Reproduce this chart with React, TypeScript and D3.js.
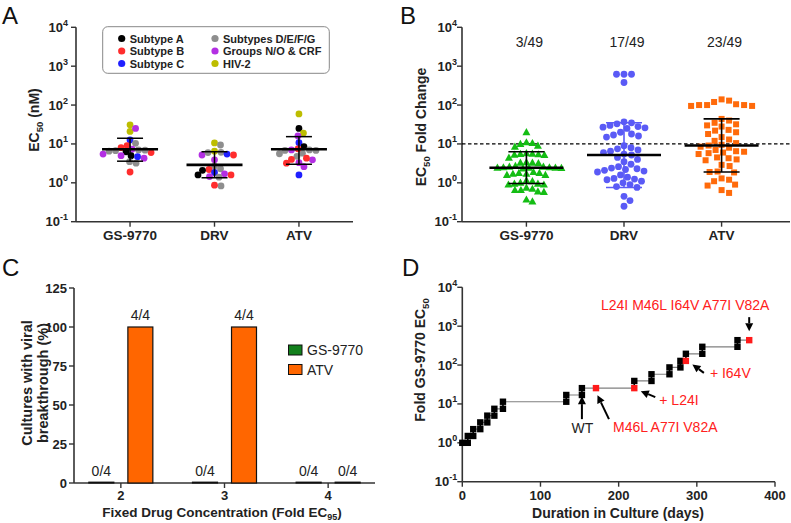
import React from 'react';
import * as d3 from 'd3';

const FONT = "'Liberation Sans', Arial, Helvetica, sans-serif";
const AX = '#333333';

// ---------------- Panel A data ----------------
const drugs = ['GS-9770', 'DRV', 'ATV'];
const subtypeNames = ['Subtype A', 'Subtype B', 'Subtype C', 'Subtypes D/E/F/G', 'Groups N/O & CRF', 'HIV-2'];
const subtypeColors = ['#000000', '#ff2d2d', '#1f1fff', '#8e8e8e', '#b32fe3', '#bdbd00'];
const gsSubtype = [5, 5, 4, 2, 3, 1, 1, 4, 3, 0, 1, 3, 3, 3, 0, 4, 4, 4, 2, 3, 3, 1];
const gsEC50 = [31, 21, 25, 12.7, 10.4, 9.1, 8.0, 7.3, 7.0, 6.3, 6.0, 6.7, 6.5, 6.9, 5.0, 5.5, 5.0, 4.3, 4.7, 3.5, 3.2, 1.9];
const drvSubtype = [5, 3, 5, 4, 3, 3, 2, 1, 4, 3, 3, 1, 0, 2, 1, 4, 3, 0, 4, 3, 1];
const drvEC50 = [10.6, 9.4, 6.5, 5.2, 6.1, 6.0, 5.5, 5.2, 3.9, 2.7, 2.3, 2.2, 2.1, 1.85, 1.6, 1.7, 1.4, 1.6, 1.45, 0.83, 0.87];
const atvSubtype = [5, 0, 5, 4, 2, 0, 3, 4, 3, 3, 1, 3, 3, 4, 4, 1, 3, 1, 1, 4, 2];
const atvEC50 = [59, 25, 19, 16, 10.8, 8.5, 5.8, 7, 5.6, 6.8, 7.5, 6.8, 7.0, 3.9, 3.3, 4.3, 4.8, 3.2, 4.0, 2.6, 1.6];
const aMedian = [7.3, 2.9, 7.3];
const aQ1 = [3.6, 1.35, 3.0];
const aQ3 = [14, 6.3, 15.4];

// ---------------- Panel B data ----------------
const bGS = [20, 11, 10.5, 10, 9, 8.5, 5.8, 5.6, 5.5, 5.4, 5.3, 5.2, 4.4, 3.4, 3.3, 3.3, 3.2, 2.7, 2.6, 2.6, 2.5, 2.5, 2.45, 2.45, 2.45,
  2.4, 2.35, 1.9, 1.8, 1.8, 1.7, 1.7, 1.6, 1.6, 1.15, 1.1, 1.0, 0.95, 0.95, 0.9, 0.9, 0.75, 0.7, 0.65, 0.65, 0.6, 0.58, 0.37, 0.33];
const bDRV = [620, 620, 620, 380, 37, 35, 33, 30, 28, 27, 26, 25, 20, 18, 17, 16, 15, 9, 8, 7.5, 7, 6.5, 6, 5.5, 5.2,
  4.5, 4, 3.5, 3, 2.6, 2.4, 2.3, 2.2, 2.1, 2.0, 1.9, 1.6, 1.4, 1.3, 1.25, 1.2, 1.1, 1.0, 0.9, 0.8, 0.76, 0.45, 0.35, 0.25];
const bATV = [140, 130, 120, 105, 100, 100, 100, 95, 95, 44, 40, 35, 32, 30, 28, 23, 22, 20, 18, 15, 13, 12, 10.5, 9.5, 9.1,
  8.5, 8, 7, 6.5, 6.3, 6, 5.8, 5.5, 4.5, 4.3, 4, 3.8, 2.9, 2.7, 1.95, 1.9, 1.85, 1.3, 1.2, 1.1, 0.9, 0.85, 0.65, 0.55];
const bMedian = [2.45, 5.2, 9.1];
const bQ1 = [0.96, 0.76, 1.9];
const bQ3 = [6.3, 35, 44];
const bCounts = ['3/49', '17/49', '23/49'];
const bCutoff = 10;

// ---------------- Panel C data ----------------
const concs = ['2', '3', '4'];
const cSeries = ['GS-9770', 'ATV'];
const cGS = [0, 0, 0];
const cATV = [100, 100, 0];
const cGSLabels = ['0/4', '0/4', '0/4'];
const cATVLabels = ['4/4', '4/4', '0/4'];
const cTicks = [0, 25, 50, 75, 100, 125];

// ---------------- Panel D data ----------------
const dDays = [0, 7, 7, 14, 14, 23, 23, 32, 32, 41, 41, 52, 52, 133, 133, 153, 153, 171, 220, 220, 242, 242, 265, 265, 279, 279, 286, 286, 307, 307, 352, 352, 367];
const dFold = [1.0, 1.0, 1.5, 1.5, 2.25, 2.25, 3.35, 3.35, 5.0, 5.0, 7.5, 7.5, 11.4, 11.4, 17, 17, 25.5, 25.5, 25.5, 39, 39, 58, 58, 87, 87, 128, 128, 195, 195, 295, 295, 437, 437];
const dMutant = [0, 0, 0, 0, 0, 0, 0, 0, 0, 0, 0, 0, 0, 0, 0, 0, 0, 1, 1, 0, 0, 0, 0, 0, 0, 0, 1, 0, 0, 0, 0, 0, 1];
const dXTicks = [0, 100, 200, 300, 400];

const logTicks = [0.1, 1, 10, 100, 1000, 10000];
const logExps = ['-1', '0', '1', '2', '3', '4'];

// ---------------- helpers ----------------
function swarm(vals: number[], yOf: (v: number) => number, d: number): number[] {
  const idx = vals.map((_, i) => i).sort((a, b) => yOf(vals[a]) - yOf(vals[b]));
  const placed: [number, number][] = [];
  const out = new Array(vals.length).fill(0);
  for (const i of idx) {
    const yi = yOf(vals[i]);
    let off = 0;
    for (let k = 0; k < 4000; k++) {
      const cand = k === 0 ? 0 : (k % 2 === 1 ? 1 : -1) * Math.ceil(k / 2) * 0.5;
      let ok = true;
      for (const [px, py] of placed) {
        const dx = px - cand, dy = py - yi;
        if (dx * dx + dy * dy < d * d) { ok = false; break; }
      }
      if (ok) { off = cand; break; }
    }
    out[i] = off;
    placed.push([off, yi]);
  }
  return out;
}

function LogYAxis({ x, y, labelGap }: { x: number; y: d3.ScaleLogarithmic<number, number>; labelGap: number }) {
  return (
    <g>
      <line x1={x} x2={x} y1={y(1e4)} y2={y(0.1)} stroke={AX} strokeWidth={1.6} />
      {logTicks.map((t, i) => (
        <g key={i}>
          <line x1={x - 5} x2={x} y1={y(t)} y2={y(t)} stroke={AX} strokeWidth={1.4} />
          <text x={x - labelGap} y={y(t) + 4.5} textAnchor="end" fontFamily={FONT} fontWeight="bold" fontSize={13} fill="#222">
            10<tspan dy={-6} fontSize={9}>{logExps[i]}</tspan>
          </text>
        </g>
      ))}
    </g>
  );
}

function Arrow({ x1, y1, x2, y2 }: { x1: number; y1: number; x2: number; y2: number }) {
  const a = Math.atan2(y2 - y1, x2 - x1);
  const L = 8, Wd = 4;
  const bx = x2 - L * Math.cos(a), by = y2 - L * Math.sin(a);
  const px = -Math.sin(a), py = Math.cos(a);
  return (
    <g>
      <line x1={x1} y1={y1} x2={bx} y2={by} stroke="#000" strokeWidth={2} />
      <polygon points={`${x2},${y2} ${bx + px * Wd},${by + py * Wd} ${bx - px * Wd},${by - py * Wd}`} fill="#000" />
    </g>
  );
}

function tri(cx: number, cy: number) {
  return `M${cx},${cy - 4.2}L${cx + 4},${cy + 3}L${cx - 4},${cy + 3}Z`;
}

export default function App() {
  // ---- Panel A ----
  const aY = d3.scaleLog().domain([0.1, 1e4]).range([221.7, 27.3]);
  const aX = d3.scalePoint<string>().domain(drugs).range([76, 353]).padding(0.64);
  const aVals = [gsEC50, drvEC50, atvEC50];
  const aSubs = [gsSubtype, drvSubtype, atvSubtype];
  const aOffs = aVals.map(v => swarm(v, (t) => aY(t), 6.2));

  // ---- Panel B ----
  const bY = d3.scaleLog().domain([0.1, 1e4]).range([221.7, 27.3]);
  const bX = d3.scalePoint<string>().domain(drugs).range([462, 786]).padding(0.66);
  const bVals = [bGS, bDRV, bATV];
  const bD = [6.0, 7.1, 7.6];
  const bOffs = bVals.map((v, i) => swarm(v, (t) => bY(t), bD[i]));
  const bColors = ['#14bd14', '#5a5af6', '#ff6a0a'];
  const bWhisker = ['#000', '#5a5af6', '#000'];

  // ---- Panel C ----
  const cY = d3.scaleLinear().domain([0, 125]).range([483, 288]);
  const cX = d3.scalePoint<string>().domain(concs).range([74, 375]).padding(0.452);
  const cInner = d3.scaleBand<string>().domain(cSeries).range([-32, 32]).paddingInner(0.36);
  const cColors = ['#13801c', '#ff6600'];
  const cVals = [cGS, cATV];
  const cLabels = [cGSLabels, cATVLabels];

  // ---- Panel D ----
  const dX = d3.scaleLinear().domain([0, 400]).range([462.3, 775]);
  const dY = d3.scaleLog().domain([0.1, 1e4]).range([481.7, 287.3]);
  const dPts = dDays.map((d, i) => ({ x: dX(d), y: dY(dFold[i]), m: dMutant[i] }));
  const dLine = d3.line<{ x: number; y: number }>().x(p => p.x).y(p => p.y)(dPts) || '';
  const redIdx = dMutant.map((m, i) => (m ? i : -1)).filter(i => i >= 0);
  const pM46 = dPts[redIdx[0]], pL24 = dPts[redIdx[1]], pI64 = dPts[redIdx[2]], pEnd = dPts[redIdx[3]];
  const pWT = dPts[16];

  const titleStyle = { fontFamily: FONT, fontWeight: 'bold' as const, fontSize: 14, fill: '#222' };

  return (
    <svg width={791} height={523} style={{ position: 'absolute', left: 0, top: 0, background: '#fff' }}>
      <rect x={0} y={0} width={791} height={523} fill="#fff" />
      {/* Panel letters */}
      <text x={2} y={24} fontFamily={FONT} fontSize={24} fill="#111">A</text>
      <text x={400} y={24} fontFamily={FONT} fontSize={24} fill="#111">B</text>
      <text x={2} y={276} fontFamily={FONT} fontSize={24} fill="#111">C</text>
      <text x={402} y={276} fontFamily={FONT} fontSize={24} fill="#111">D</text>

      {/* ================= Panel A ================= */}
      <g>
        <LogYAxis x={76} y={aY} labelGap={8} />
        <line x1={76} x2={353} y1={aY(0.1)} y2={aY(0.1)} stroke={AX} strokeWidth={1.6} />
        {drugs.map((d) => (
          <g key={d}>
            <line x1={aX(d)} x2={aX(d)} y1={aY(0.1)} y2={aY(0.1) + 5} stroke={AX} strokeWidth={1.4} />
            <text x={aX(d)} y={240} textAnchor="middle" {...titleStyle} fontSize={13.5}>{d}</text>
          </g>
        ))}
        <text transform={`translate(39,120) rotate(-90)`} textAnchor="middle" {...titleStyle}>
          EC<tspan dy={4} fontSize={9.5}>50</tspan><tspan dy={-4}> (nM)</tspan>
        </text>
        {drugs.map((d, di) => (
          <g key={d}>
            {aVals[di].map((v, i) => (
              <circle key={i} cx={(aX(d) as number) + aOffs[di][i]} cy={aY(v)} r={3.4} fill={subtypeColors[aSubs[di][i]]} />
            ))}
            <line x1={(aX(d) as number) - 28} x2={(aX(d) as number) + 28} y1={aY(aMedian[di])} y2={aY(aMedian[di])} stroke="#000" strokeWidth={2.6} />
            <line x1={aX(d)} x2={aX(d)} y1={aY(aQ1[di])} y2={aY(aQ3[di])} stroke="#000" strokeWidth={1.5} />
            <line x1={(aX(d) as number) - 13} x2={(aX(d) as number) + 13} y1={aY(aQ1[di])} y2={aY(aQ1[di])} stroke="#000" strokeWidth={1.5} />
            <line x1={(aX(d) as number) - 13} x2={(aX(d) as number) + 13} y1={aY(aQ3[di])} y2={aY(aQ3[di])} stroke="#000" strokeWidth={1.5} />
          </g>
        ))}
        {/* legend */}
        <rect x={102.7} y={26.7} width={226.6} height={46.6} rx={5} fill="#fff" stroke="#888" strokeWidth={1} />
        {subtypeNames.map((n, i) => {
          const col = Math.floor(i / 3), row = i % 3;
          const lx = col === 0 ? 121.7 : 215;
          const ly = 38.5 + row * 12.5;
          return (
            <g key={n}>
              <circle cx={lx} cy={ly} r={3.6} fill={subtypeColors[i]} />
              <text x={lx + 8} y={ly + 4} fontFamily={FONT} fontWeight="bold" fontSize={11} fill="#222">{n}</text>
            </g>
          );
        })}
      </g>

      {/* ================= Panel B ================= */}
      <g>
        <LogYAxis x={462} y={bY} labelGap={5} />
        <line x1={462} x2={790} y1={bY(0.1)} y2={bY(0.1)} stroke={AX} strokeWidth={1.6} />
        {drugs.map((d, di) => (
          <g key={d}>
            <line x1={bX(d)} x2={bX(d)} y1={bY(0.1)} y2={bY(0.1) + 5} stroke={AX} strokeWidth={1.4} />
            <text x={bX(d)} y={240} textAnchor="middle" {...titleStyle} fontSize={13.5}>{d}</text>
            <text x={(bX(d) as number) + 3} y={47} textAnchor="middle" fontFamily={FONT} fontSize={14} fill="#222">{bCounts[di]}</text>
          </g>
        ))}
        <text transform={`translate(426,127) rotate(-90)`} textAnchor="middle" {...titleStyle}>
          EC<tspan dy={4} fontSize={9.5}>50</tspan><tspan dy={-4}> Fold Change</tspan>
        </text>
        <line x1={462} x2={790} y1={bY(bCutoff)} y2={bY(bCutoff)} stroke="#000" strokeWidth={1.3} strokeDasharray="3.5,2.5" />
        {drugs.map((d, di) => {
          const cx = bX(d) as number;
          return (
            <g key={d}>
              {bVals[di].map((v, i) => {
                const px = cx + bOffs[di][i], py = bY(v);
                if (di === 0) return <path key={i} d={tri(px, py)} fill={bColors[0]} />;
                if (di === 1) return <circle key={i} cx={px} cy={py} r={3.4} fill={bColors[1]} />;
                return <rect key={i} x={px - 3} y={py - 3} width={6} height={6} fill={bColors[2]} />;
              })}
              <line x1={cx} x2={cx} y1={bY(bQ1[di])} y2={bY(bQ3[di])} stroke={bWhisker[di]} strokeWidth={1.6} />
              <line x1={cx - 18} x2={cx + 18} y1={bY(bQ1[di])} y2={bY(bQ1[di])} stroke={bWhisker[di]} strokeWidth={1.6} />
              <line x1={cx - 18} x2={cx + 18} y1={bY(bQ3[di])} y2={bY(bQ3[di])} stroke={bWhisker[di]} strokeWidth={1.6} />
              <line x1={cx - 37} x2={cx + 37} y1={bY(bMedian[di])} y2={bY(bMedian[di])} stroke="#000" strokeWidth={2.6} />
            </g>
          );
        })}
      </g>

      {/* ================= Panel C ================= */}
      <g>
        <line x1={74} x2={74} y1={cY(125)} y2={cY(0)} stroke={AX} strokeWidth={1.6} />
        {cTicks.map(t => (
          <g key={t}>
            <line x1={69} x2={74} y1={cY(t)} y2={cY(t)} stroke={AX} strokeWidth={1.4} />
            <text x={67} y={cY(t) + 4.5} textAnchor="end" fontFamily={FONT} fontWeight="bold" fontSize={13} fill="#222">{t}</text>
          </g>
        ))}
        <line x1={74} x2={375} y1={cY(0)} y2={cY(0)} stroke={AX} strokeWidth={1.6} />
        {concs.map((c, ci) => (
          <g key={c}>
            <line x1={cX(c)} x2={cX(c)} y1={cY(0)} y2={cY(0) + 5} stroke={AX} strokeWidth={1.4} />
            <text x={cX(c)} y={500} textAnchor="middle" fontFamily={FONT} fontWeight="bold" fontSize={13} fill="#222">{c}</text>
            {cSeries.map((s, si) => {
              const x0 = (cX(c) as number) + (cInner(s) as number);
              const v = cVals[si][ci];
              const h = Math.max(cY(0) - cY(v), 0.8);
              return (
                <g key={s}>
                  <rect x={x0} y={cY(0) - h} width={cInner.bandwidth()} height={h} fill={cColors[si]} stroke="#111" strokeWidth={1.2} />
                  <text x={x0 + cInner.bandwidth() / 2} y={cY(v) - 7.5} textAnchor="middle" fontFamily={FONT} fontSize={14} fill="#222">{cLabels[si][ci]}</text>
                </g>
              );
            })}
          </g>
        ))}
        <text transform={`translate(31.5,383) rotate(-90)`} textAnchor="middle" {...titleStyle} fontSize={14.5}>Cultures with viral</text>
        <text transform={`translate(47.5,383) rotate(-90)`} textAnchor="middle" {...titleStyle} fontSize={14.5}>breakthrough (%)</text>
        <text x={222} y={517} textAnchor="middle" {...titleStyle} fontSize={13.5}>
          Fixed Drug Concentration (Fold EC<tspan dy={3} fontSize={9}>95</tspan><tspan dy={-3}>)</tspan>
        </text>
        {cSeries.map((s, si) => (
          <g key={s}>
            <rect x={288.5} y={345 + si * 19.5} width={13.5} height={10} fill={cColors[si]} stroke="#111" strokeWidth={1} />
            <text x={307} y={355 + si * 19.5} fontFamily={FONT} fontSize={14} fill="#222">{s}</text>
          </g>
        ))}
      </g>

      {/* ================= Panel D ================= */}
      <g>
        <LogYAxis x={462.3} y={dY} labelGap={5} />
        <line x1={462.3} x2={775} y1={dY(0.1)} y2={dY(0.1)} stroke={AX} strokeWidth={1.6} />
        {dXTicks.map(t => (
          <g key={t}>
            <line x1={dX(t)} x2={dX(t)} y1={dY(0.1)} y2={dY(0.1) + 5} stroke={AX} strokeWidth={1.4} />
            <text x={dX(t)} y={500} textAnchor="middle" fontFamily={FONT} fontWeight="bold" fontSize={13} fill="#222">{t}</text>
          </g>
        ))}
        <text x={618} y={518} textAnchor="middle" {...titleStyle}>Duration in Culture (days)</text>
        <text transform={`translate(425,360) rotate(-90)`} textAnchor="middle" {...titleStyle}>
          Fold GS-9770 EC<tspan dy={4} fontSize={9.5}>50</tspan>
        </text>
        <path d={dLine} fill="none" stroke="#808080" strokeWidth={1.2} />
        {dPts.map((p, i) => (i > 0 && dDays[i] === dDays[i - 1] ? (
          <line key={'v' + i} x1={p.x} x2={p.x} y1={p.y} y2={dPts[i - 1].y} stroke="#000" strokeWidth={1.5} />
        ) : null))}
        {dPts.map((p, i) => (
          <rect key={i} x={p.x - 3.2} y={p.y - 3.2} width={6.4} height={6.4} fill={p.m ? '#ff1a1a' : '#000'} />
        ))}
        {/* annotations */}
        <text x={pEnd.x - 64} y={pEnd.y - 30} textAnchor="middle" fontFamily={FONT} fontSize={14} fill="#ff2020">L24I M46L I64V A77I V82A</text>
        <Arrow x1={pEnd.x} y1={pEnd.y - 23} x2={pEnd.x} y2={pEnd.y - 9} />
        <text x={pI64.x + 24} y={pI64.y + 17.5} fontFamily={FONT} fontSize={14} fill="#ff2020">+ I64V</text>
        <Arrow x1={pI64.x + 18} y1={pI64.y + 12} x2={pI64.x + 6.5} y2={pI64.y + 3.5} />
        <text x={pL24.x + 25} y={pL24.y + 17} fontFamily={FONT} fontSize={14} fill="#ff2020">+ L24I</text>
        <Arrow x1={pL24.x + 21} y1={pL24.y + 9} x2={pL24.x + 6.5} y2={pL24.y + 3} />
        <text x={pM46.x + 17} y={pM46.y + 44} fontFamily={FONT} fontSize={14} fill="#ff2020">M46L A77I V82A</text>
        <Arrow x1={pM46.x + 13} y1={pM46.y + 31} x2={pM46.x + 1.5} y2={pM46.y + 7} />
        <text x={pWT.x + 0.5} y={pWT.y + 45} textAnchor="middle" fontFamily={FONT} fontSize={14} fill="#222">WT</text>
        <Arrow x1={pWT.x} y1={pWT.y + 31} x2={pWT.x} y2={pWT.y + 8} />
      </g>
    </svg>
  );
}
